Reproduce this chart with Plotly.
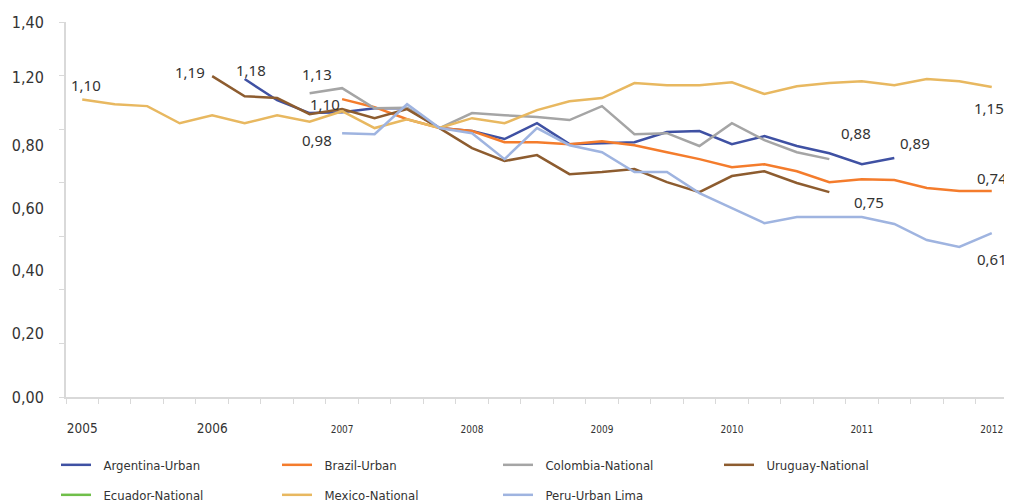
import plotly.graph_objects as go

# quarterly positions, year label every 4th point
years = ["2005", "2006", "2007", "2008", "2009", "2010", "2011", "2012"]
n_points = 29

# series values (None = no data for that period)
argentina = [None] * 5 + [1.187, 1.108, 1.060, 1.063, 1.078, 1.078, 1.004, 0.993, 0.963, 1.022,
                          0.944, 0.948, 0.951, 0.989, 0.993, 0.944, 0.974, 0.937, 0.910, 0.869, 0.892] + [None] * 3
brazil = [None] * 8 + [1.112, 1.082, 1.037, 1.004, 0.993, 0.951, 0.951, 0.944, 0.955, 0.940, 0.914,
                       0.888, 0.858, 0.869, 0.843, 0.802, 0.813, 0.810, 0.780, 0.769, 0.769]
colombia = [None] * 7 + [1.134, 1.153, 1.078, 1.080, 1.004, 1.060, 1.052, 1.045, 1.034, 1.086, 0.981,
                         0.985, 0.937, 1.022, 0.959, 0.914, 0.888] + [None] * 5
uruguay = [None] * 4 + [1.198, 1.123, 1.116, 1.056, 1.075, 1.041, 1.075, 1.004, 0.929, 0.881, 0.903,
                        0.832, 0.840, 0.851, 0.802, 0.765, 0.825, 0.843, 0.799, 0.765] + [None] * 5
ecuador = [None] * n_points
mexico = [1.111, 1.093, 1.086, 1.022, 1.052, 1.022, 1.052, 1.028, 1.067, 1.004, 1.037, 1.004, 1.041,
          1.022, 1.071, 1.104, 1.116, 1.172, 1.164, 1.164, 1.175, 1.131, 1.160, 1.172, 1.179, 1.164,
          1.187, 1.179, 1.157]
peru = [None] * 8 + [0.985, 0.981, 1.093, 1.004, 0.985, 0.888, 1.004, 0.940, 0.914, 0.840, 0.840,
                     0.761, 0.705, 0.649, 0.672, 0.672, 0.672, 0.646, 0.586, 0.560, 0.612]

series = [
    ("Argentina-Urban", argentina, "#3F51A3", "legend"),
    ("Brazil-Urban", brazil, "#F47C2C", "legend"),
    ("Colombia-National", colombia, "#A5A5A5", "legend"),
    ("Uruguay-National", uruguay, "#8D5C2F", "legend"),
    ("Ecuador-National", ecuador, "#70BF4A", "legend2"),
    ("Mexico-National", mexico, "#E8B860", "legend2"),
    ("Peru-Urban Lima", peru, "#9FB4E0", "legend2"),
]

# y tick labels sit where the original drew them (not on the tick marks)
ytick_text = ["0,00", "0,20", "0,40", "0,60", "0,80", "1,20", "1,40"]
ytick_pos = [0.0, 0.239, 0.474, 0.705, 0.94, 1.194, 1.4]

# value labels: (series, index, text, xshift, yshift)
value_labels = [
    (mexico, 0, "1,10", 4, 14),
    (uruguay, 4, "1,19", -22, 4),
    (argentina, 5, "1,18", 6, 9),
    (colombia, 7, "1,13", 7, 19),
    (brazil, 8, "1,10", -17, -5),
    (peru, 8, "0,98", -25, -7),
    (colombia, 23, "0,88", 27, 26),
    (argentina, 25, "0,89", 21, 15),
    (uruguay, 23, "0,75", 40, -10),
    (mexico, 28, "1,15", -3, -21),
    (brazil, 28, "0,74", 0, 13),
    (peru, 28, "0,61", 0, -26),
]

x = list(range(n_points))
fig = go.Figure()
for name, vals, color, lg in series:
    fig.add_trace(go.Scatter(x=x, y=vals, name="\u00a0\u00a0" + name, mode="lines",
                             line=dict(color=color, width=2.5), legend=lg))

for vals, i, txt, dx, dy in value_labels:
    fig.add_annotation(x=i, y=vals[i], text=txt, showarrow=False, xshift=dx, yshift=dy,
                       font=dict(family="Noto Sans, Open Sans", size=15, color="#333333"))

big = "<span style='font-size:13.5px'>%s</span>"
small = "<span style='font-size:10px'>%s</span>"
xtick_text = [big % y if y in ("2005", "2006") else small % y for y in years]

legend_style = dict(orientation="h", xanchor="left", yanchor="top", x=-0.0106,
                    entrywidth=176, itemwidth=30, font=dict(size=13, color="#333333"))

# page body adds an 8px offset, so the figure is drawn 8px smaller
fig.update_layout(
    width=1004, height=494,
    margin=dict(l=58, r=4, t=14, b=105, autoexpand=False),
    plot_bgcolor="white", paper_bgcolor="white",
    font=dict(family="Liberation Sans Narrow, DejaVu Sans Condensed, sans-serif", color="#333333"),
    xaxis=dict(range=[-0.5, n_points - 0.5], showgrid=False, zeroline=False, automargin=False,
               showline=True, linecolor="#D9D9D9", linewidth=2,
               tickvals=list(range(0, n_points, 4)), ticktext=xtick_text, ticks="",
               ticklabelstandoff=20,
               minor=dict(ticks="outside", tick0=-0.5, dtick=1, ticklen=5, tickcolor="#D9D9D9",
                          tickwidth=1, showgrid=False)),
    yaxis=dict(range=[0, 1.4], showgrid=False, zeroline=False, automargin=False,
               showline=True, linecolor="#D9D9D9", linewidth=2,
               tickvals=ytick_pos, ticktext=ytick_text, ticks="",
               tickfont=dict(size=16, color="#333333"), ticklabelstandoff=17,
               minor=dict(ticks="outside", tick0=0, dtick=0.2, ticklen=5, tickcolor="#D9D9D9",
                          tickwidth=1, showgrid=False)),
    legend=dict(legend_style, y=-0.141),
    legend2=dict(legend_style, y=-0.221),
)

fig.write_html("out.html")
